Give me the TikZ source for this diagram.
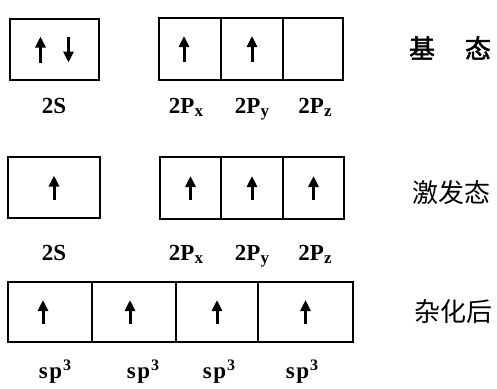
\documentclass[tikz,border=0pt]{standalone}
\usepackage{fontspec}
\setmainfont{Liberation Serif}
\usetikzlibrary{arrows.meta}
\newfontfamily\cjk{Noto Sans CJK SC}
\newfontfamily\cjkb[FakeBold=2]{Noto Sans CJK SC}
\tikzset{
  cell/.style={draw, line width=1.2pt, rectangle, inner sep=0pt, outer sep=0pt},
  spin/.style={line width=3pt, -{Triangle[length=11pt,width=10pt]}},
  orb/.style={anchor=base, inner sep=0pt, font=\fontsize{23}{26}\selectfont\bfseries},
  state/.style={inner sep=0pt, font=\fontsize{26}{30}\selectfont\cjk},
  stateb/.style={inner sep=0pt, font=\fontsize{26}{30}\selectfont\cjkb}
}
\newcommand\cellat[5]{\node[cell, minimum width=#4-#2, minimum height=#5-#3] (#1) at ({(#2+#4)/2},{(#3+#5)/2}) {};}
\newcommand\sub[1]{\raisebox{-3pt}{\fontsize{17}{17}\selectfont\bfseries #1}}
\newcommand\spthree{s\kern1.5pt p\kern1pt\raisebox{8pt}{\fontsize{16}{16}\selectfont\bfseries 3}}
\begin{document}
\begin{tikzpicture}[x=1pt,y=-1pt]
\useasboundingbox (0,0) rectangle (497,388);
% row 1
\cellat{a1}{10}{19}{99}{80}
\cellat{a2}{159}{18}{221}{80}
\cellat{a3}{221}{18}{283}{80}
\cellat{a4}{283}{18}{343}{80}
\draw[spin] ([xshift=-14pt,yshift=-13pt]a1.center) -- ([xshift=-14pt,yshift=13pt]a1.center);
\draw[spin] ([xshift=14pt,yshift=13pt]a1.center) -- ([xshift=14pt,yshift=-13pt]a1.center);
\draw[spin] ([xshift=-6pt,yshift=-13pt]a2.center) -- ([xshift=-6pt,yshift=13pt]a2.center);
\draw[spin] ([yshift=-13pt]a3.center) -- ([yshift=13pt]a3.center);
\node[orb] (l1) at (54,113) {2S};
\node[orb] (l2) at (186,113) {2P\sub{x}};
\node[orb] (l3) at (252,113) {2P\sub{y}};
\node[orb] (l4) at (315,113) {2P\sub{z}};
\node[stateb] (s1a) at (422,48) {基};
\node[stateb] (s1b) at (478,48) {态};
% row 2
\cellat{b1}{8}{157}{100}{218}
\cellat{b2}{160}{157}{221}{219}
\cellat{b3}{221}{157}{283}{219}
\cellat{b4}{283}{157}{344}{219}
\draw[spin] ([yshift=-12pt]b1.center) -- ([yshift=12pt]b1.center);
\draw[spin] ([yshift=-12pt]b2.center) -- ([yshift=12pt]b2.center);
\draw[spin] ([yshift=-12pt]b3.center) -- ([yshift=12pt]b3.center);
\draw[spin] ([yshift=-12pt]b4.center) -- ([yshift=12pt]b4.center);
\node[orb] (m1) at (54,260) {2S};
\node[orb] (m2) at (186,260) {2P\sub{x}};
\node[orb] (m3) at (252,260) {2P\sub{y}};
\node[orb] (m4) at (315,260) {2P\sub{z}};
\node[state] (s2) at (451,193) {激发态};
% row 3
\cellat{c1}{8}{282}{92}{342}
\cellat{c2}{92}{282}{176}{342}
\cellat{c3}{176}{282}{258}{342}
\cellat{c4}{258}{282}{353}{342}
\draw[spin] ([xshift=-7pt,yshift=-12pt]c1.center) -- ([xshift=-7pt,yshift=12pt]c1.center);
\draw[spin] ([xshift=-4pt,yshift=-12pt]c2.center) -- ([xshift=-4pt,yshift=12pt]c2.center);
\draw[spin] ([yshift=-12pt]c3.center) -- ([yshift=12pt]c3.center);
\draw[spin] ([yshift=-12pt]c4.center) -- ([yshift=12pt]c4.center);
\node[orb] (n1) at (55,378) {\spthree};
\node[orb] (n2) at (143,378) {\spthree};
\node[orb] (n3) at (219,378) {\spthree};
\node[orb] (n4) at (302,378) {\spthree};
\node[state] (s3) at (453,312) {杂化后};
\end{tikzpicture}
\end{document}
